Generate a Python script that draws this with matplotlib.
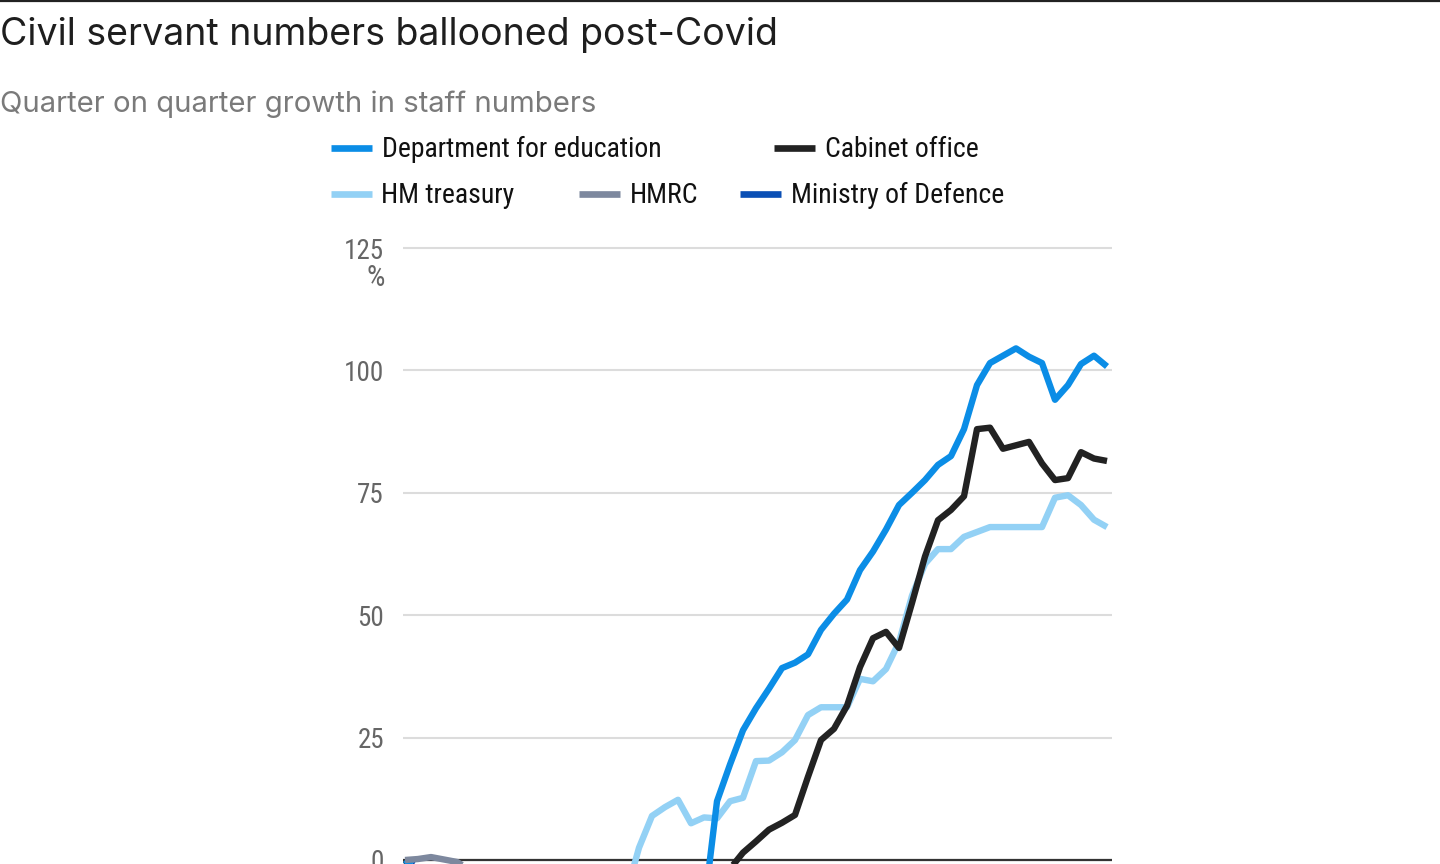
import matplotlib
matplotlib.use("Agg")
import matplotlib.pyplot as plt
from matplotlib.lines import Line2D

# ---------------- data ----------------
quarters = list(range(55))
education = [0, -2, -4, -6, -8, -10, -12, -14, -16, -18, -19, -20, -21, -22, -22, -22, -21, -21, -20, -19,
             -18, -16, -14, -10, 12, 19.5, 26.5, 31, 35, 39.2, 40.3, 42, 47, 50.3, 53.2, 59.2, 63, 67.5, 72.5, 75,
             77.6, 80.7, 82.5, 88, 97, 101.5, 103, 104.5, 102.8, 101.5, 94, 97, 101.3, 103, 100.8]
cabinet = [0, -3, -6, -9, -12, -14, -16, -18, -20, -21, -22, -23, -24, -24, -24, -23, -22, -21, -19, -17,
           -15, -12, -9, -6, -4, -1.8, 1.5, 3.8, 6.2, 7.6, 9.2, 17, 24.5, 26.8, 31.5, 39.4, 45.3, 46.6, 43.3, 52.5,
           62, 69.4, 71.5, 74.3, 88, 88.3, 84, 84.7, 85.4, 81, 77.6, 78, 83.3, 82, 81.5]
treasury = [0, -2, -4, -6, -8, -9, -10, -11, -11, -12, -12, -11, -11, -10, -10, -9, -9, -7, 2.5, 9,
            10.8, 12.3, 7.5, 8.7, 8.5, 12, 12.7, 20.2, 20.3, 22, 24.5, 29.6, 31.2, 31.2, 31.2, 37, 36.5, 39, 44.5, 54,
            60.5, 63.5, 63.5, 66, 67, 68, 68, 68, 68, 68, 74, 74.5, 72.5, 69.5, 68]
hmrc = [0, 0.2, 0.6, 0.1, -0.4, -2, -4, -6, -8, -10, -11, -12, -13, -14, -15, -16, -17, -17, -18, -18,
        -19, -19, -20, -20, -20, -21, -21, -21, -21, -20, -20, -19, -19, -18, -18, -17, -17, -16, -16, -15,
        -15, -14, -13, -12, -11, -10, -9, -8, -7, -7, -6, -6, -5, -5, -4]
defence = [0, -1.5, -3, -5, -7, -9, -11, -13, -15, -17, -19, -21, -22, -23, -24, -25, -26, -27, -28, -29,
           -30, -30, -31, -31, -32, -32, -33, -33, -33, -34, -34, -34, -34, -35, -35, -35, -35, -35, -35, -35,
           -35, -34, -34, -34, -33, -33, -33, -32, -32, -32, -31, -31, -31, -30, -30]

series_names = ["Department for education", "Cabinet office", "HM treasury", "HMRC", "Ministry of Defence"]
series_colors = ["#0b8de6", "#222222", "#93d1f5", "#7d889e", "#0a4fb5"]
yticks = [0, 25, 50, 75, 100, 125]
title = "Civil servant numbers ballooned post-Covid"
subtitle = "Quarter on quarter growth in staff numbers"

# ---------------- layout ----------------
W, H = 1440, 864
fig = plt.figure(figsize=(W / 100, H / 100), dpi=100)
fig.patch.set_facecolor("white")


def fx(px):
    return px / W


def fy(py):
    return 1 - py / H


narrow = ["Roboto Condensed", "Fira Sans Condensed", "Liberation Sans Narrow", "DejaVu Sans"]
titlefont = ["Inter", "Roboto", "DejaVu Sans"]

# top rule
fig.add_artist(Line2D([0, 1], [fy(1), fy(1)], transform=fig.transFigure, color="#222222", lw=1.6))

fig.text(fx(0), fy(45), title, fontsize=27, color="#1e1e1e", family=titlefont, va="baseline", ha="left")
fig.text(fx(0), fy(112), subtitle, fontsize=21.1, color="#7a7a7a", family=titlefont, va="baseline", ha="left")

# axes geometry
y0_px, y125_px = 860, 248
ppu = (y0_px - y125_px) / 125.0
top_px = 240
ymin = -50
ymax = 125 + (y125_px - top_px) / ppu
bottom_px = y0_px + (0 - ymin) * ppu
left_px, right_px = 403, 1112
x0_px, step = 405, 13.0

ax = fig.add_axes([fx(left_px), fy(bottom_px), (right_px - left_px) / W, (bottom_px - top_px) / H])
ax.set_xlim(-(x0_px - left_px) / step, (right_px - x0_px) / step)
ax.set_ylim(ymin, ymax)
for s in ax.spines.values():
    s.set_visible(False)
ax.set_xticks([])
ax.set_yticks(yticks)
ax.set_yticklabels([str(t) for t in yticks], family=narrow)
ax.tick_params(axis="y", length=0, pad=13.7, labelsize=19.5, labelcolor="#666666")
ax.yaxis.grid(True, color="#dcdcdc", lw=1.5)
ax.set_axisbelow(True)
ax.axhline(0, color="#333333", lw=1.6, zorder=1.5)

data = [education, cabinet, treasury, hmrc, defence]
order = [4, 2, 1, 0, 3]
for z, k in enumerate(order):
    ax.plot(quarters, data[k], color=series_colors[k], lw=4.6, solid_joinstyle="round",
            solid_capstyle="butt", zorder=3 + z)

fig.text(fx(385), fy(278), "%", fontsize=21, color="#666666", family=narrow, ha="right", va="center")

# legend (manual flowing layout)
legend_items = [
    (0, 331, 148, 382, 157),
    (1, 774, 148, 825, 157),
    (2, 331, 194, 381, 203),
    (3, 579, 194, 630, 203),
    (4, 740, 194, 791, 203),
]
for k, hx, hy, tx, ty in legend_items:
    fig.add_artist(Line2D([fx(hx), fx(hx + 41)], [fy(hy), fy(hy)], transform=fig.transFigure,
                          color=series_colors[k], lw=4.8, solid_capstyle="butt"))
    fig.text(fx(tx), fy(ty), series_names[k], fontsize=20, color="#111111", family=narrow,
             va="baseline", ha="left")

fig.savefig("out.png", dpi=100, facecolor="white")
